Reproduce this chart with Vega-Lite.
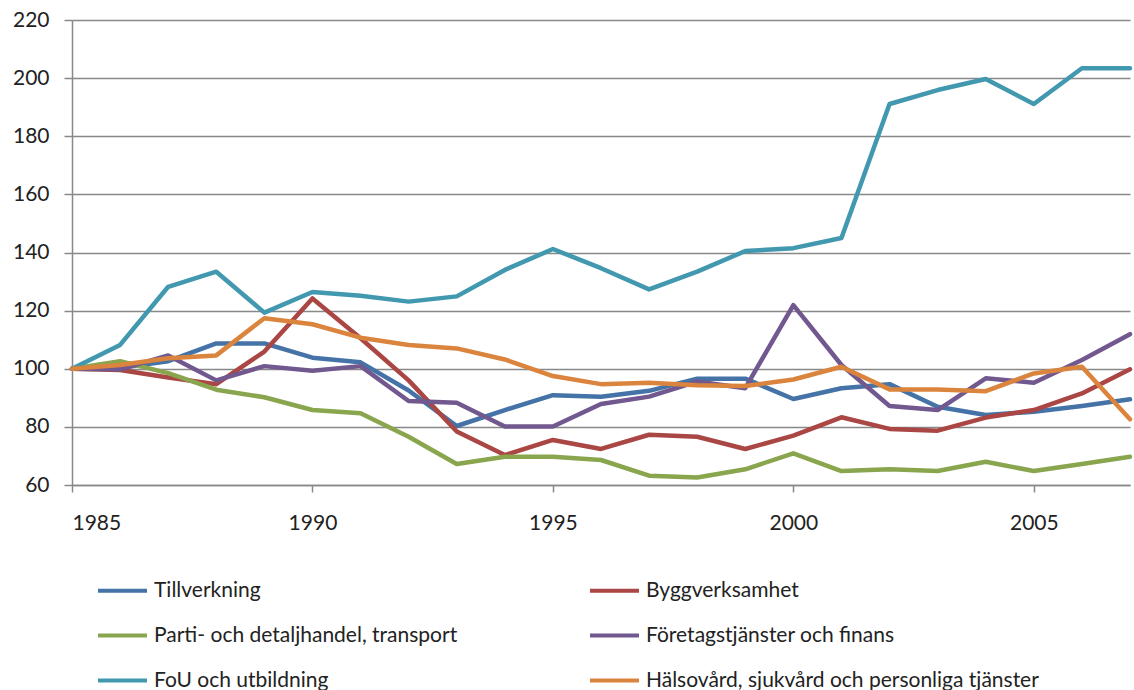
{
  "$schema": "https://vega.github.io/schema/vega-lite/v6.json",
  "width": 1058,
  "height": 465,
  "autosize": {"type": "none"},
  "padding": {"left": 72, "top": 20, "right": 4, "bottom": 205},
  "background": "white",
  "data": {
    "values": [
      {"year": 1985, "Tillverkning": 100, "Byggverksamhet": 100, "Parti- och detaljhandel, transport": 100, "Företagstjänster och finans": 100, "FoU och utbildning": 100, "Hälsovård, sjukvård och personliga tjänster": 100},
      {"year": 1986, "Tillverkning": 100.3, "Byggverksamhet": 99.6, "Parti- och detaljhandel, transport": 102.6, "Företagstjänster och finans": 99.8, "FoU och utbildning": 108.2, "Hälsovård, sjukvård och personliga tjänster": 101.3},
      {"year": 1987, "Tillverkning": 102.6, "Byggverksamhet": 97.0, "Parti- och detaljhandel, transport": 98.5, "Företagstjänster och finans": 104.6, "FoU och utbildning": 128.2, "Hälsovård, sjukvård och personliga tjänster": 103.6},
      {"year": 1988, "Tillverkning": 108.7, "Byggverksamhet": 94.7, "Parti- och detaljhandel, transport": 92.8, "Företagstjänster och finans": 96.0, "FoU och utbildning": 133.4, "Hälsovård, sjukvård och personliga tjänster": 104.6},
      {"year": 1989, "Tillverkning": 108.7, "Byggverksamhet": 105.9, "Parti- och detaljhandel, transport": 90.2, "Företagstjänster och finans": 100.9, "FoU och utbildning": 119.3, "Hälsovård, sjukvård och personliga tjänster": 117.4},
      {"year": 1990, "Tillverkning": 103.8, "Byggverksamhet": 124.2, "Parti- och detaljhandel, transport": 85.8, "Företagstjänster och finans": 99.3, "FoU och utbildning": 126.4, "Hälsovård, sjukvård och personliga tjänster": 115.3},
      {"year": 1991, "Tillverkning": 102.2, "Byggverksamhet": 110.5, "Parti- och detaljhandel, transport": 84.7, "Företagstjänster och finans": 100.9, "FoU och utbildning": 125.1, "Hälsovård, sjukvård och personliga tjänster": 110.7},
      {"year": 1992, "Tillverkning": 92.5, "Byggverksamhet": 96.0, "Parti- och detaljhandel, transport": 76.6, "Företagstjänster och finans": 88.9, "FoU och utbildning": 123.1, "Hälsovård, sjukvård och personliga tjänster": 108.2},
      {"year": 1993, "Tillverkning": 80.3, "Byggverksamhet": 78.4, "Parti- och detaljhandel, transport": 67.2, "Företagstjänster och finans": 88.3, "FoU och utbildning": 124.9, "Hälsovård, sjukvård och personliga tjänster": 107.0},
      {"year": 1994, "Tillverkning": 85.8, "Byggverksamhet": 70.3, "Parti- och detaljhandel, transport": 69.7, "Företagstjänster och finans": 80.1, "FoU och utbildning": 134.0, "Hälsovård, sjukvård och personliga tjänster": 103.2},
      {"year": 1995, "Tillverkning": 90.9, "Byggverksamhet": 75.5, "Parti- och detaljhandel, transport": 69.7, "Företagstjänster och finans": 80.1, "FoU och utbildning": 141.2, "Hälsovård, sjukvård och personliga tjänster": 97.5},
      {"year": 1996, "Tillverkning": 90.4, "Byggverksamhet": 72.4, "Parti- och detaljhandel, transport": 68.6, "Företagstjänster och finans": 87.9, "FoU och utbildning": 134.6, "Hälsovård, sjukvård och personliga tjänster": 94.7},
      {"year": 1997, "Tillverkning": 92.4, "Byggverksamhet": 77.3, "Parti- och detaljhandel, transport": 63.2, "Företagstjänster och finans": 90.4, "FoU och utbildning": 127.3, "Hälsovård, sjukvård och personliga tjänster": 95.2},
      {"year": 1998, "Tillverkning": 96.6, "Byggverksamhet": 76.6, "Parti- och detaljhandel, transport": 62.6, "Företagstjänster och finans": 95.6, "FoU och utbildning": 133.4, "Hälsovård, sjukvård och personliga tjänster": 94.3},
      {"year": 1999, "Tillverkning": 96.6, "Byggverksamhet": 72.4, "Parti- och detaljhandel, transport": 65.4, "Företagstjänster och finans": 93.3, "FoU och utbildning": 140.5, "Hälsovård, sjukvård och personliga tjänster": 94.1},
      {"year": 2000, "Tillverkning": 89.6, "Byggverksamhet": 77.0, "Parti- och detaljhandel, transport": 70.9, "Företagstjänster och finans": 121.9, "FoU och utbildning": 141.5, "Hälsovård, sjukvård och personliga tjänster": 96.3},
      {"year": 2001, "Tillverkning": 93.3, "Byggverksamhet": 83.3, "Parti- och detaljhandel, transport": 64.8, "Företagstjänster och finans": 101.3, "FoU och utbildning": 145.0, "Hälsovård, sjukvård och personliga tjänster": 100.7},
      {"year": 2002, "Tillverkning": 94.7, "Byggverksamhet": 79.3, "Parti- och detaljhandel, transport": 65.4, "Företagstjänster och finans": 87.2, "FoU och utbildning": 191.1, "Hälsovård, sjukvård och personliga tjänster": 92.9},
      {"year": 2003, "Tillverkning": 86.9, "Byggverksamhet": 78.7, "Parti- och detaljhandel, transport": 64.8, "Företagstjänster och finans": 85.8, "FoU och utbildning": 195.9, "Hälsovård, sjukvård och personliga tjänster": 92.9},
      {"year": 2004, "Tillverkning": 84.1, "Byggverksamhet": 83.2, "Parti- och detaljhandel, transport": 68.0, "Företagstjänster och finans": 96.7, "FoU och utbildning": 199.7, "Hälsovård, sjukvård och personliga tjänster": 92.3},
      {"year": 2005, "Tillverkning": 85.2, "Byggverksamhet": 85.8, "Parti- och detaljhandel, transport": 64.8, "Företagstjänster och finans": 95.2, "FoU och utbildning": 191.1, "Hälsovård, sjukvård och personliga tjänster": 98.4},
      {"year": 2006, "Tillverkning": 87.2, "Byggverksamhet": 91.5, "Parti- och detaljhandel, transport": 67.2, "Företagstjänster och finans": 103.0, "FoU och utbildning": 203.4, "Hälsovård, sjukvård och personliga tjänster": 100.7},
      {"year": 2007, "Tillverkning": 89.5, "Byggverksamhet": 99.8, "Parti- och detaljhandel, transport": 69.7, "Företagstjänster och finans": 111.9, "FoU och utbildning": 203.4, "Hälsovård, sjukvård och personliga tjänster": 82.6}
    ]
  },
  "transform": [
    {"fold": ["Tillverkning", "Byggverksamhet", "Parti- och detaljhandel, transport", "Företagstjänster och finans", "FoU och utbildning", "Hälsovård, sjukvård och personliga tjänster"], "as": ["series", "value"]}
  ],
  "mark": {"type": "line", "strokeWidth": 4.5, "strokeJoin": "round", "strokeCap": "round"},
  "encoding": {
    "x": {
      "field": "year",
      "type": "quantitative",
      "scale": {"domain": [1985, 2007], "nice": false, "zero": false},
      "axis": {"values": [1985, 1990, 1995, 2000, 2005], "format": "d", "grid": false, "title": null, "tickSize": 7, "labelPadding": 20}
    },
    "y": {
      "field": "value",
      "type": "quantitative",
      "scale": {"domain": [60, 220], "nice": false, "zero": false},
      "axis": {"values": [60, 80, 100, 120, 140, 160, 180, 200, 220], "title": null, "grid": true, "tickSize": 8, "labelPadding": 15}
    },
    "color": {
      "field": "series",
      "type": "nominal",
      "scale": {
        "domain": ["Tillverkning", "Byggverksamhet", "Parti- och detaljhandel, transport", "Företagstjänster och finans", "FoU och utbildning", "Hälsovård, sjukvård och personliga tjänster"],
        "range": ["#4573A7", "#AA4643", "#89A54E", "#71588F", "#4198AF", "#DB843D"]
      },
      "legend": {
        "orient": "none",
        "direction": "horizontal",
        "legendX": 24,
        "legendY": 544,
        "columns": 2,
        "title": null,
        "symbolType": "stroke",
        "symbolSize": 2401,
        "symbolStrokeWidth": 4,
        "labelFontSize": 21,
        "labelOffset": 5,
        "labelLimit": 600,
        "labelColor": "#222222",
        "rowPadding": 8,
        "columnPadding": 124
      }
    }
  },
  "config": {
    "view": {"stroke": null},
    "font": "Lato",
    "axis": {
      "labelFont": "Lato",
      "labelFontSize": 21,
      "labelColor": "#222222",
      "domainColor": "#888888",
      "domainWidth": 1.5,
      "tickColor": "#888888",
      "tickWidth": 1.5,
      "gridColor": "#888888",
      "gridWidth": 1.5
    }
  }
}
